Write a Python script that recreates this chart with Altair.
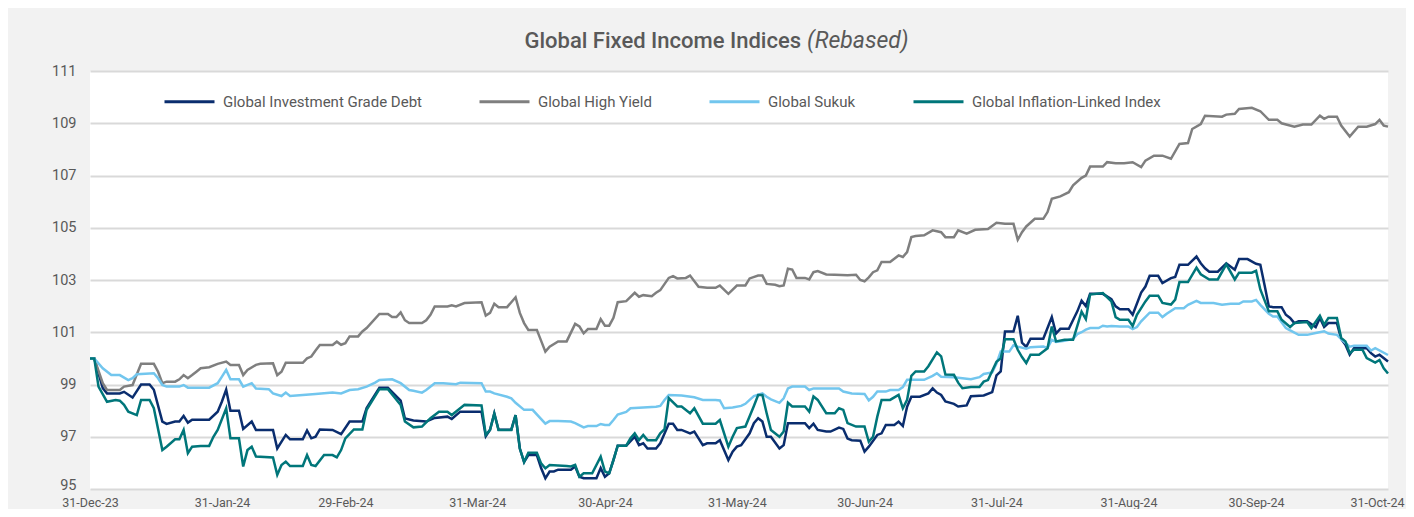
import altair as alt
import pandas as pd

SERIES = ["Global Investment Grade Debt", "Global High Yield", "Global Sukuk", "Global Inflation-Linked Index"]
COLORS = ["#0A2D6E", "#7F7F7F", "#72C6EE", "#00767A"]
BASE_DATE = "2023-12-31"
X_TICKS = ["2023-12-31", "2024-01-31", "2024-02-29", "2024-03-31", "2024-04-30", "2024-05-31",
           "2024-06-30", "2024-07-31", "2024-08-31", "2024-09-30", "2024-10-31"]
Y_TICKS = [95, 97, 99, 101, 103, 105, 107, 109, 111]
TITLE_MAIN = "Global Fixed Income Indices"
TITLE_NOTE = "(Rebased)"

# (days since 31-Dec-23, index level)
ig_points = [
    (0, 100.0), (1, 100.0), (3, 98.86), (4, 98.66), (7, 98.66), (8, 98.72), (10, 98.5), (12, 99.0), (14, 99.0), (15, 98.8),
    (17, 97.58), (18, 97.49), (20, 97.58), (21, 97.58), (22, 97.8), (23, 97.54), (24, 97.65), (28, 97.65), (30, 97.96), (31, 98.35),
    (32, 98.8), (33, 98.0), (35, 98.0), (36, 97.3), (38, 97.58), (39, 97.26), (43, 97.26), (44, 96.55), (46, 97.07), (47, 96.9),
    (50, 96.9), (51, 97.24), (52, 96.94), (53, 97.0), (54, 97.28), (57, 97.26), (59, 97.1), (61, 97.58), (64, 97.58), (65, 98.1),
    (68, 98.88), (70, 98.88), (73, 98.38), (74, 97.7), (76, 97.62), (79, 97.58), (81, 97.72), (84, 97.77), (85, 97.68), (87, 97.96),
    (92, 97.96), (93, 97.02), (94, 97.27), (95, 97.9), (96, 97.27), (99, 97.27), (100, 97.83), (101, 96.55), (102, 96.03), (103, 96.3),
    (105, 96.3), (106, 95.8), (107, 95.41), (108, 95.67), (109, 95.67), (110, 95.74), (113, 95.74), (114, 95.86), (115, 95.47), (116, 95.41),
    (119, 95.41), (120, 95.8), (121, 95.47), (122, 95.6), (123, 96.11), (124, 96.66), (126, 96.66), (128, 97.0), (129, 96.68), (130, 96.75),
    (131, 96.55), (133, 96.55), (134, 96.75), (136, 97.5), (137, 97.5), (138, 97.26), (139, 97.26), (141, 97.13), (142, 97.2), (144, 96.68),
    (145, 96.75), (147, 96.75), (148, 96.87), (150, 96.11), (151, 96.43), (152, 96.62), (153, 96.68), (155, 97.13), (156, 97.52), (157, 97.71),
    (158, 97.58), (159, 97.0), (160, 97.0), (162, 96.55), (163, 96.68), (164, 97.52), (166, 97.52), (168, 97.52), (169, 97.33), (170, 97.5),
    (171, 97.26), (173, 97.2), (174, 97.2), (176, 97.35), (177, 97.3), (178, 96.93), (179, 96.87), (181, 96.85), (182, 96.43), (183, 96.62),
    (185, 97.07), (186, 97.13), (187, 97.45), (189, 97.45), (190, 97.58), (191, 97.41), (192, 98.15), (193, 98.53), (195, 98.53), (197, 98.66),
    (198, 98.85), (199, 98.69), (200, 98.6), (201, 98.35), (203, 98.26), (204, 98.16), (206, 98.2), (207, 98.55), (210, 98.58), (212, 98.71),
    (213, 99.35), (214, 99.5), (215, 101.03), (217, 101.03), (218, 101.63), (219, 100.6), (220, 100.44), (221, 100.75), (224, 100.75), (226, 101.58),
    (227, 100.95), (228, 101.13), (230, 101.13), (232, 101.8), (233, 102.21), (234, 102.0), (235, 102.47), (238, 102.47), (240, 102.27), (241, 101.99),
    (242, 101.88), (244, 101.88), (245, 101.67), (247, 102.52), (248, 102.75), (249, 103.16), (251, 103.16), (252, 102.88), (254, 103.07), (255, 103.12),
    (256, 103.58), (258, 103.58), (260, 103.9), (261, 103.64), (262, 103.45), (263, 103.32), (265, 103.32), (267, 103.64), (269, 103.39), (270, 103.8),
    (272, 103.8), (274, 103.62), (275, 103.58), (276, 102.8), (277, 101.99), (278, 101.96), (280, 101.96), (281, 101.67), (282, 101.55), (283, 101.35),
    (284, 101.42), (286, 101.42), (288, 101.2), (289, 101.55), (290, 101.2), (291, 101.35), (293, 101.35), (294, 100.74), (295, 100.52), (296, 100.14),
    (297, 100.39), (300, 100.39), (301, 100.2), (302, 100.07), (303, 100.14), (305, 99.88),
]

hy_points = [
    (0, 100.0), (1, 100.0), (3, 99.05), (4, 98.79), (7, 98.79), (8, 98.92), (10, 98.98), (12, 99.79), (15, 99.79), (16, 99.49),
    (17, 99.05), (18, 99.11), (20, 99.11), (21, 99.2), (22, 99.36), (23, 99.24), (24, 99.36), (25, 99.49), (26, 99.62), (28, 99.66),
    (30, 99.79), (32, 99.88), (33, 99.75), (35, 99.75), (36, 99.36), (37, 99.56), (39, 99.75), (40, 99.79), (43, 99.81), (44, 99.36),
    (45, 99.49), (46, 99.83), (50, 99.83), (51, 100.0), (52, 100.07), (53, 100.3), (54, 100.51), (57, 100.51), (58, 100.64), (59, 100.52),
    (60, 100.58), (61, 100.84), (63, 100.84), (64, 101.03), (65, 101.16), (68, 101.7), (70, 101.7), (71, 101.58), (72, 101.58), (73, 101.76),
    (74, 101.46), (75, 101.35), (78, 101.35), (79, 101.46), (80, 101.67), (81, 101.99), (84, 101.99), (85, 102.03), (86, 101.99), (88, 102.12),
    (92, 102.15), (93, 101.64), (94, 101.74), (95, 102.09), (96, 101.96), (98, 101.96), (100, 102.34), (101, 101.74), (102, 101.35), (103, 101.09),
    (105, 101.09), (107, 100.26), (108, 100.45), (110, 100.65), (112, 100.65), (114, 101.32), (115, 101.22), (116, 100.96), (117, 101.12), (119, 101.12),
    (120, 101.5), (121, 101.25), (122, 101.25), (123, 101.55), (124, 102.15), (126, 102.19), (128, 102.51), (129, 102.36), (130, 102.42), (132, 102.38),
    (133, 102.51), (134, 102.61), (136, 103.08), (137, 103.15), (138, 103.06), (140, 103.08), (141, 103.17), (143, 102.74), (145, 102.7), (147, 102.7),
    (148, 102.79), (150, 102.47), (152, 102.79), (154, 102.79), (155, 103.06), (157, 103.17), (158, 103.17), (159, 102.85), (161, 102.82), (162, 102.76),
    (163, 102.79), (164, 103.43), (165, 103.4), (166, 103.08), (168, 103.08), (169, 103.02), (170, 103.3), (171, 103.34), (173, 103.21), (175, 103.2),
    (178, 103.18), (180, 103.2), (181, 103.0), (182, 102.95), (183, 103.1), (184, 103.3), (185, 103.37), (186, 103.69), (188, 103.69), (190, 103.94),
    (191, 103.88), (192, 104.07), (193, 104.64), (194, 104.68), (196, 104.71), (198, 104.9), (200, 104.83), (201, 104.64), (203, 104.64), (204, 104.9),
    (206, 104.77), (208, 104.92), (211, 104.95), (213, 105.19), (215, 105.15), (217, 105.15), (218, 104.54), (219, 104.83), (220, 105.05), (222, 105.34),
    (224, 105.34), (225, 105.6), (226, 106.11), (228, 106.2), (230, 106.36), (231, 106.62), (233, 106.91), (234, 107.0), (235, 107.34), (238, 107.34),
    (239, 107.51), (241, 107.47), (243, 107.47), (245, 107.51), (247, 107.32), (248, 107.57), (250, 107.76), (252, 107.76), (254, 107.64), (256, 108.21),
    (258, 108.24), (259, 108.78), (261, 108.97), (262, 109.29), (266, 109.25), (267, 109.33), (269, 109.36), (270, 109.55), (273, 109.59), (275, 109.46),
    (277, 109.13), (279, 109.13), (280, 109.0), (283, 108.87), (285, 108.95), (287, 108.95), (289, 109.29), (290, 109.17), (291, 109.25), (293, 109.25),
    (294, 108.91), (296, 108.49), (298, 108.87), (300, 108.87), (302, 108.97), (303, 109.13), (304, 108.91), (305, 108.87),
]

sukuk_points = [
    (0, 100.0), (1, 100.0), (3, 99.62), (5, 99.36), (7, 99.36), (9, 99.17), (10, 99.24), (11, 99.39), (15, 99.43), (16, 99.24),
    (17, 98.98), (18, 98.92), (21, 98.92), (22, 98.98), (23, 98.88), (28, 98.88), (30, 99.05), (31, 99.3), (32, 99.56), (33, 99.2),
    (35, 99.2), (36, 98.92), (38, 99.05), (39, 98.85), (42, 98.82), (43, 98.66), (45, 98.56), (46, 98.69), (47, 98.56), (50, 98.6),
    (53, 98.64), (57, 98.69), (59, 98.66), (61, 98.79), (63, 98.82), (65, 98.92), (67, 99.07), (68, 99.17), (71, 99.2), (73, 99.05),
    (75, 98.79), (76, 98.76), (78, 98.69), (79, 98.79), (81, 99.05), (83, 99.05), (86, 99.01), (87, 99.07), (92, 99.05), (93, 98.73),
    (94, 98.73), (95, 98.66), (98, 98.53), (99, 98.47), (100, 98.3), (102, 98.03), (104, 98.03), (107, 97.5), (108, 97.6), (110, 97.6),
    (113, 97.58), (114, 97.52), (116, 97.36), (117, 97.41), (119, 97.41), (120, 97.49), (121, 97.45), (122, 97.45), (123, 97.64), (124, 97.85),
    (126, 97.95), (127, 98.09), (130, 98.12), (133, 98.15), (134, 98.18), (135, 98.41), (136, 98.6), (139, 98.58), (142, 98.51), (144, 98.41),
    (147, 98.41), (148, 98.39), (149, 98.09), (151, 98.12), (153, 98.18), (154, 98.26), (155, 98.41), (156, 98.56), (158, 98.66), (159, 98.53),
    (160, 98.43), (162, 98.3), (163, 98.47), (164, 98.85), (165, 98.92), (168, 98.92), (169, 98.79), (170, 98.85), (176, 98.85), (177, 98.73),
    (179, 98.66), (182, 98.64), (183, 98.39), (184, 98.53), (185, 98.73), (187, 98.73), (188, 98.79), (190, 98.79), (191, 98.9), (192, 99.18),
    (196, 99.18), (198, 99.33), (199, 99.43), (200, 99.3), (203, 99.28), (205, 99.24), (207, 99.2), (209, 99.28), (210, 99.4), (212, 99.46),
    (213, 99.8), (214, 100.26), (216, 100.26), (217, 100.5), (218, 100.45), (220, 100.37), (221, 100.43), (224, 100.45), (225, 100.4), (226, 100.71),
    (227, 100.63), (229, 100.67), (231, 100.75), (232, 100.93), (233, 101.0), (234, 101.1), (235, 101.16), (237, 101.16), (238, 101.25), (239, 101.22),
    (240, 101.24), (242, 101.22), (244, 101.22), (245, 101.12), (246, 101.2), (247, 101.42), (249, 101.75), (251, 101.75), (252, 101.58), (253, 101.71),
    (255, 101.92), (257, 101.92), (258, 102.05), (260, 102.2), (261, 102.12), (264, 102.12), (266, 102.05), (268, 102.09), (270, 102.09), (271, 102.18),
    (273, 102.18), (274, 102.24), (275, 102.05), (277, 101.71), (278, 101.6), (279, 101.6), (281, 101.16), (282, 101.07), (284, 100.9), (286, 100.9),
    (288, 100.97), (290, 101.04), (291, 100.95), (293, 100.9), (294, 100.74), (296, 100.45), (297, 100.48), (300, 100.48), (301, 100.3), (302, 100.39),
    (305, 100.13),
]

ili_points = [
    (0, 100.0), (1, 100.0), (2, 98.92), (4, 98.34), (6, 98.41), (7, 98.38), (8, 98.22), (9, 97.96), (11, 97.83), (12, 98.41),
    (14, 98.41), (15, 98.09), (17, 96.49), (18, 96.62), (20, 96.9), (21, 96.9), (22, 97.26), (23, 96.37), (24, 96.62), (26, 96.65),
    (28, 96.65), (29, 97.0), (30, 97.26), (32, 98.09), (33, 96.94), (35, 96.94), (36, 95.86), (37, 96.49), (38, 96.62), (39, 96.24),
    (43, 96.21), (44, 95.54), (45, 95.92), (46, 96.05), (47, 95.88), (50, 95.88), (51, 96.3), (52, 95.92), (53, 95.88), (55, 96.3),
    (57, 96.3), (58, 96.21), (59, 96.49), (60, 96.94), (62, 97.28), (64, 97.28), (65, 98.03), (68, 98.82), (70, 98.82), (73, 98.22),
    (74, 97.58), (76, 97.36), (78, 97.39), (80, 97.71), (82, 97.96), (84, 97.96), (85, 97.83), (88, 98.22), (92, 98.2), (93, 97.07),
    (94, 97.26), (95, 97.88), (96, 97.26), (99, 97.26), (100, 97.83), (101, 96.55), (102, 96.03), (103, 96.39), (105, 96.39), (106, 95.98),
    (107, 95.79), (108, 95.92), (112, 95.88), (113, 95.86), (114, 95.92), (115, 95.47), (116, 95.6), (118, 95.6), (120, 96.24), (121, 95.67),
    (122, 95.6), (123, 96.11), (124, 96.66), (126, 96.66), (127, 96.94), (128, 97.13), (129, 96.87), (130, 97.07), (131, 96.87), (133, 96.87),
    (134, 97.13), (135, 97.29), (136, 98.48), (138, 98.16), (139, 98.16), (141, 97.9), (142, 98.09), (144, 97.5), (147, 97.5), (148, 97.64),
    (150, 96.62), (151, 97.0), (152, 97.33), (154, 97.39), (156, 98.18), (157, 98.6), (158, 98.6), (159, 97.9), (160, 97.26), (162, 97.0),
    (163, 97.2), (164, 98.3), (165, 98.16), (168, 98.16), (169, 97.96), (170, 98.54), (171, 98.41), (173, 97.9), (175, 97.9), (176, 98.09),
    (177, 98.03), (178, 97.52), (180, 97.39), (182, 97.39), (183, 96.81), (184, 97.0), (185, 97.77), (186, 98.41), (188, 98.41), (190, 98.6),
    (191, 98.09), (192, 98.41), (193, 99.33), (194, 99.5), (196, 99.5), (197, 99.7), (199, 100.23), (200, 100.08), (201, 99.38), (203, 99.37),
    (204, 99.07), (205, 98.86), (207, 98.9), (209, 98.9), (210, 99.11), (211, 99.17), (213, 99.87), (214, 100.0), (215, 100.73), (217, 100.73),
    (218, 100.33), (219, 100.05), (220, 99.82), (221, 100.14), (223, 100.14), (225, 100.39), (226, 101.22), (227, 100.65), (229, 100.71), (231, 100.71),
    (232, 101.24), (233, 101.79), (234, 101.5), (235, 102.44), (238, 102.5), (240, 102.18), (241, 101.58), (242, 101.48), (244, 101.48), (245, 101.24),
    (246, 101.67), (248, 102.18), (249, 102.4), (251, 102.4), (252, 102.12), (254, 102.06), (255, 102.25), (256, 102.92), (258, 102.92), (260, 103.47),
    (261, 103.22), (263, 103.02), (265, 103.02), (267, 103.6), (269, 103.02), (270, 103.28), (273, 103.28), (274, 103.35), (275, 102.64), (277, 101.8),
    (279, 101.8), (280, 101.48), (282, 101.2), (283, 101.35), (286, 101.39), (287, 101.16), (289, 101.63), (290, 101.29), (291, 101.55), (293, 101.55),
    (294, 100.78), (295, 100.65), (296, 100.2), (297, 100.33), (299, 100.33), (300, 100.01), (302, 99.84), (303, 99.94), (304, 99.62), (305, 99.42),
]

# ---------------------------------------------------------------- build table
frames = []
for name, pts in zip(SERIES, [ig_points, hy_points, sukuk_points, ili_points]):
    f = pd.DataFrame(pts, columns=["day", "value"])
    f["date"] = pd.Timestamp(BASE_DATE) + pd.to_timedelta(f["day"], unit="D")
    f["series"] = name
    frames.append(f[["date", "series", "value"]])
df = pd.concat(frames, ignore_index=True)


def dt(s):
    d = pd.Timestamp(s)
    return alt.DateTime(year=int(d.year), month=int(d.month), date=int(d.day))


TEXT = "#595959"
FONT = "Roboto"

# the last date label is nudged left a little so it stays inside the canvas
last_label_offset = {"condition": {"test": "datum.value >= datetime(2024, 9, 30)", "value": -11}, "value": 0}
# the lowest value label is nudged up a little so it clears the first date label
low_label_offset = {"condition": {"test": "datum.value == 95", "value": -4}, "value": 0}

x_enc = alt.X(
    "date:T",
    scale=alt.Scale(domain=[dt(X_TICKS[0]), dt(X_TICKS[-1])], nice=False),
    axis=alt.Axis(values=[dt(s) for s in X_TICKS], format="%d-%b-%y", grid=False, ticks=False,
                  domain=False, labelFlush=False, labelOverlap=False, labelPadding=7,
                  labelFontSize=12.5, labelOffset=last_label_offset, title=None),
)
y_enc = alt.Y(
    "value:Q",
    scale=alt.Scale(domain=[Y_TICKS[0], Y_TICKS[-1]], nice=False, zero=False),
    axis=alt.Axis(values=Y_TICKS, format="d", grid=True, gridColor="#D9D9D9", gridWidth=2,
                  ticks=False, domain=False, labelPadding=14, labelFontSize=14.5,
                  labelOffset=low_label_offset, title=None),
)
color_enc = alt.Color(
    "series:N",
    scale=alt.Scale(domain=SERIES, range=COLORS),
    legend=alt.Legend(orient="none", legendX=73, legendY=4, direction="horizontal", title=None,
                      symbolType="stroke", symbolSize=2500, symbolStrokeWidth=3, labelOffset=7,
                      columnPadding=51, labelFont=FONT, labelFontSize=15, labelColor=TEXT,
                      labelLimit=500, padding=0),
)

base = alt.Chart(df).mark_line(strokeWidth=2.5).encode(x=x_enc, y=y_enc, color=color_enc)
lines = [base.transform_filter(alt.datum.series == s) for s in SERIES]

title_main = alt.Chart(pd.DataFrame({"t": [TITLE_MAIN]})).mark_text(
    align="right", baseline="alphabetic", font=FONT, fontSize=22, fontWeight=500, color=TEXT
).encode(x=alt.value(711), y=alt.value(-23), text="t:N")

title_note = alt.Chart(pd.DataFrame({"t": [TITLE_NOTE]})).mark_text(
    align="left", baseline="alphabetic", font=FONT, fontSize=23, fontStyle="italic", color=TEXT
).encode(x=alt.value(717), y=alt.value(-23), text="t:N")

chart = (
    alt.layer(*lines, title_main, title_note)
    .properties(
        width=1298,
        height=418,
        padding={"left": 82, "top": 63, "right": 18, "bottom": 20},
        autosize=alt.AutoSizeParams(type="none"),
        background="#F2F2F2",
    )
    .configure_view(fill="white", strokeWidth=0)
    .configure_axis(labelFont=FONT, labelColor=TEXT)
)

chart.save("out.html", embed_options={"renderer": "svg", "actions": False})
